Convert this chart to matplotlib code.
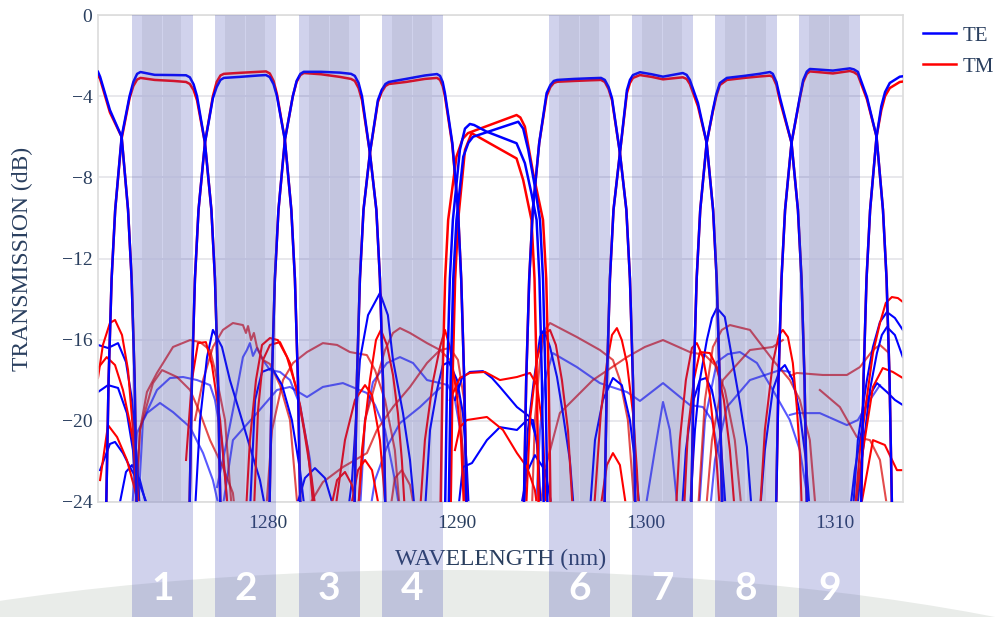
import matplotlib
matplotlib.use("Agg")
import matplotlib.pyplot as plt
import matplotlib.transforms as mtransforms
from matplotlib.patches import Rectangle, Ellipse
from matplotlib.lines import Line2D

plt.rcParams["font.family"] = ["Liberation Serif", "DejaVu Serif"]

# ---- main passbands: wavelength (nm), TE and TM transmission (dB) ----
ch0_wl = [1271.0, 1271.11, 1271.63, 1272.25, 1272.59, 1272.78, 1272.94, 1273.06]
ch0_te = [-2.8, -3.04, -4.68, -6.0, -9.6, -13, -18, -25]
ch0_tm = [-2.96, -3.15, -4.8, -6.0, -9.6, -13, -18, -25]

ch1_wl = [1271.42, 1271.56, 1271.72, 1271.91, 1272.25, 1272.67, 1272.87, 1273.07, 1273.25, 1274.0,
          1275.0, 1275.66, 1275.86, 1276.06, 1276.24, 1276.66, 1277.0, 1277.19, 1277.35, 1277.49]
ch1_te = [-25, -18, -13, -9.6, -6.0, -4.0, -3.3, -2.9, -2.81, -2.95,
          -2.96, -2.97, -3.07, -3.42, -4.0, -6.3, -9.6, -13, -18, -25]
ch1_tm = [-25, -18, -13, -9.6, -6.1, -4.1, -3.5, -3.18, -3.1, -3.2,
          -3.25, -3.3, -3.4, -3.7, -4.2, -6.3, -9.6, -13, -18, -25]

ch2_wl = [1275.83, 1275.97, 1276.13, 1276.32, 1276.66, 1277.08, 1277.28, 1277.48, 1277.66, 1278.5,
          1279.5, 1279.89, 1280.09, 1280.29, 1280.47, 1280.89, 1281.23, 1281.42, 1281.58, 1281.72]
ch2_te = [-25, -18, -13, -9.6, -6.3, -4.1, -3.55, -3.2, -3.1, -3.05,
          -2.98, -2.96, -3.06, -3.41, -4.0, -6.16, -9.6, -13, -18, -25]
ch2_tm = [-25, -18, -13, -9.6, -6.3, -4.0, -3.3, -2.98, -2.9, -2.85,
          -2.8, -2.78, -2.88, -3.25, -3.9, -6.16, -9.6, -13, -18, -25]

ch3_wl = [1280.06, 1280.20, 1280.36, 1280.55, 1280.89, 1281.31, 1281.51, 1281.71, 1281.89, 1282.8,
          1283.8, 1284.39, 1284.59, 1284.79, 1284.97, 1285.39, 1285.73, 1285.92, 1286.08, 1286.22]
ch3_te = [-25, -18, -13, -9.6, -6.16, -4.0, -3.25, -2.9, -2.8, -2.8,
          -2.84, -2.9, -3.0, -3.35, -4.0, -6.8, -9.6, -13, -18, -25]
ch3_tm = [-25, -18, -13, -9.6, -6.16, -4.0, -3.3, -2.96, -2.86, -2.92,
          -3.05, -3.15, -3.25, -3.6, -4.2, -6.8, -9.6, -13, -18, -25]

ch4_wl = [1284.56, 1284.70, 1284.86, 1285.05, 1285.39, 1285.81, 1286.01, 1286.21, 1286.39, 1287.3,
          1288.3, 1288.94, 1289.1, 1289.24, 1289.36, 1289.75, 1290.05, 1290.22, 1290.38, 1290.52]
ch4_te = [-25, -18, -13, -9.6, -6.8, -4.2, -3.7, -3.4, -3.3, -3.15,
          -2.98, -2.91, -3.0, -3.3, -3.85, -6.3, -9.6, -13, -18, -25]
ch4_tm = [-25, -18, -13, -9.6, -6.8, -4.3, -3.8, -3.5, -3.4, -3.3,
          -3.15, -3.1, -3.2, -3.5, -4.0, -6.4, -9.6, -13, -18, -25]

ch5a_wl = [1289.36, 1289.47, 1289.62, 1289.78, 1290.15, 1290.42, 1290.68, 1290.9,
           1291.57, 1293.15, 1293.59, 1293.94, 1294.21, 1294.36, 1294.49, 1294.60]
ch5a_te = [-25, -18, -13, -10.1, -6.65, -5.6, -5.37, -5.42,
           -5.75, -6.32, -7.3, -8.8, -10.1, -13, -18, -25]
ch5b_wl = [1289.55, 1289.66, 1289.80, 1289.97, 1290.33, 1290.6, 1290.85, 1293.24,
           1293.5, 1293.77, 1294.12, 1294.39, 1294.55, 1294.68, 1294.80]
ch5b_te = [-25, -18, -13, -10.1, -6.98, -6.3, -6.0, -5.26,
           -5.6, -6.65, -8.46, -10.1, -13, -18, -25]
ch5c_wl = [1289.12, 1289.23, 1289.37, 1289.53, 1289.97, 1290.3, 1290.58, 1293.15,
           1293.35, 1293.59, 1294.03, 1294.55, 1294.72, 1294.85, 1294.96]
ch5c_tm = [-25, -18, -13, -10.1, -6.98, -6.1, -5.82, -4.93,
           -5.05, -5.5, -7.8, -10.1, -13, -18, -25]
ch5d_wl = [1289.65, 1289.76, 1289.90, 1290.06, 1290.42, 1290.77, 1293.15, 1293.50,
           1293.94, 1294.10, 1294.22, 1294.33]
ch5d_tm = [-25, -18, -13, -10.1, -6.65, -5.82, -7.07, -8.13,
           -10.1, -13, -18, -25]

ch6_wl = [1293.52, 1293.66, 1293.82, 1294.01, 1294.35, 1294.74, 1294.94, 1295.12, 1295.3, 1296.2,
          1297.0, 1297.62, 1297.82, 1298.02, 1298.2, 1298.62, 1298.96, 1299.15, 1299.31, 1299.45]
ch6_te = [-25, -18, -13, -9.6, -6.3, -3.85, -3.45, -3.25, -3.2, -3.15,
          -3.12, -3.1, -3.2, -3.55, -4.1, -6.8, -9.6, -13, -18, -25]
ch6_tm = [-25, -18, -13, -9.6, -6.3, -4.0, -3.55, -3.35, -3.29, -3.25,
          -3.22, -3.2, -3.3, -3.65, -4.2, -6.8, -9.6, -13, -18, -25]

ch7_wl = [1297.79, 1297.93, 1298.09, 1298.28, 1298.62, 1298.99, 1299.15, 1299.31, 1299.68, 1300.3,
          1300.9, 1301.95, 1302.15, 1302.32, 1302.75, 1303.21, 1303.55, 1303.74, 1303.9, 1304.04]
ch7_te = [-25, -18, -13, -9.6, -6.8, -3.7, -3.2, -2.96, -2.82, -2.92,
          -3.04, -2.86, -2.95, -3.2, -4.34, -6.3, -9.6, -13, -18, -25]
ch7_tm = [-25, -18, -13, -9.6, -6.8, -3.85, -3.35, -3.1, -2.96, -3.05,
          -3.17, -3.07, -3.15, -3.4, -4.5, -6.3, -9.6, -13, -18, -25]

ch8_wl = [1302.38, 1302.52, 1302.68, 1302.87, 1303.21, 1303.54, 1303.72, 1303.91, 1304.28, 1305.2,
          1306.0, 1306.56, 1306.71, 1306.9, 1307.08, 1307.70, 1308.04, 1308.23, 1308.39, 1308.53]
ch8_te = [-25, -18, -13, -9.6, -6.3, -4.68, -3.9, -3.35, -3.1, -3.0,
          -2.9, -2.81, -2.9, -3.3, -4.04, -6.3, -9.6, -13, -18, -25]
ch8_tm = [-25, -18, -13, -9.6, -6.3, -4.75, -4.0, -3.45, -3.2, -3.1,
          -3.03, -2.99, -3.05, -3.45, -4.2, -6.3, -9.6, -13, -18, -25]

ch9_wl = [1306.87, 1307.01, 1307.17, 1307.36, 1307.70, 1308.14, 1308.32, 1308.51, 1308.67, 1309.3,
          1309.89, 1310.79, 1311.0, 1311.21, 1311.69, 1312.20, 1312.54, 1312.73, 1312.89, 1313.03]
ch9_te = [-25, -18, -13, -9.6, -6.3, -4.04, -3.2, -2.79, -2.66, -2.7,
          -2.74, -2.63, -2.68, -2.8, -4.04, -6.0, -9.6, -13, -18, -25]
ch9_tm = [-25, -18, -13, -9.6, -6.3, -4.1, -3.3, -2.9, -2.78, -2.83,
          -2.88, -2.76, -2.82, -2.95, -4.15, -6.0, -9.6, -13, -18, -25]

ch10_wl = [1311.37, 1311.51, 1311.67, 1311.86, 1312.20, 1312.45, 1312.65, 1312.9, 1313.43, 1313.6]
ch10_te = [-25, -18, -13, -9.6, -6.0, -4.5, -3.8, -3.35, -3.04, -3.02]
ch10_tm = [-25, -18, -13, -9.6, -6.0, -4.7, -4.0, -3.6, -3.3, -3.28]

# ---- crosstalk traces (wavelength list, dB list) ----
te_leak = [
    ([1271.0, 1271.53, 1272.06, 1272.48, 1272.80, 1273.06, 1273.22], [-16.26, -16.41, -16.17, -17.10, -18.97, -21.93, -24.5]),
    ([1271.0, 1271.53, 1272.06, 1272.53, 1272.85, 1273.06], [-18.58, -18.24, -18.38, -19.62, -21.44, -24.5]),
    ([1271.11, 1271.63, 1271.90, 1272.32, 1272.69, 1273.22, 1273.75], [-22.43, -21.14, -21.04, -21.59, -22.28, -23.16, -24.5]),
    ([1272.06, 1272.48, 1272.80, 1273.22, 1273.65], [-24.5, -22.52, -22.18, -22.92, -24.5]),
    ([1276.13, 1276.40, 1276.77, 1277.08, 1277.56, 1277.98, 1278.51, 1279.04, 1279.57, 1279.89], [-24.5, -19.96, -16.86, -15.52, -16.36, -17.99, -19.62, -21.29, -22.92, -24.5]),
    ([1279.04, 1279.31, 1279.68, 1280.21, 1280.74, 1281.26, 1281.69, 1281.95], [-24.5, -18.97, -17.59, -17.40, -18.24, -19.96, -22.43, -24.5]),
    ([1284.23, 1284.44, 1284.86, 1285.29, 1285.92, 1286.34, 1286.61, 1287.14, 1287.51, 1287.77], [-24.5, -22.92, -17.00, -14.79, -13.70, -14.79, -17.00, -19.62, -21.93, -24.5]),
    ([1288.30, 1288.57, 1288.94, 1289.25, 1289.57, 1290.0, 1290.31, 1290.52, 1290.63], [-24.5, -20.45, -18.48, -17.25, -17.10, -17.99, -19.62, -22.28, -24.5]),
    ([1289.89, 1290.26, 1290.68, 1291.37, 1291.85, 1292.27, 1293.17, 1293.86, 1294.23, 1294.39], [-18.97, -17.89, -17.59, -17.55, -17.89, -18.33, -19.32, -19.81, -20.95, -24.5]),
    ([1290.05, 1290.31, 1290.79, 1291.58, 1292.27, 1293.17, 1293.70, 1294.02, 1294.28, 1294.44], [-24.5, -22.28, -22.08, -20.95, -20.31, -20.45, -19.96, -19.96, -21.44, -24.5]),
    ([1293.54, 1293.75, 1294.07, 1294.39, 1294.60, 1294.92, 1295.29, 1295.60, 1295.97, 1296.19], [-24.5, -20.45, -17.99, -15.87, -15.52, -16.36, -17.84, -19.62, -21.93, -24.5]),
    ([1297.03, 1297.30, 1297.72, 1298.25, 1298.72, 1299.15, 1299.47, 1299.68], [-24.5, -20.95, -18.97, -17.89, -18.24, -19.96, -22.43, -24.5]),
    ([1302.32, 1302.59, 1302.85, 1303.22, 1303.49, 1303.75, 1304.17, 1304.60, 1304.97, 1305.34, 1305.60], [-24.5, -20.45, -17.99, -16.02, -14.93, -14.44, -14.88, -17.15, -19.12, -21.29, -24.5]),
    ([1306.03, 1306.29, 1306.71, 1307.08, 1307.35, 1307.77, 1308.14, 1308.46, 1308.67], [-24.5, -21.44, -18.48, -17.50, -17.25, -17.99, -19.62, -21.93, -24.5]),
    ([1310.95, 1311.21, 1311.69, 1312.01, 1312.38, 1312.75, 1313.17, 1313.59], [-24.5, -20.95, -17.99, -16.36, -15.13, -14.64, -14.93, -15.52]),
    ([1311.16, 1311.42, 1311.85, 1312.22, 1312.48, 1312.75, 1313.17, 1313.59], [-24.5, -21.93, -18.48, -16.66, -15.77, -15.38, -15.77, -16.86]),
    ([1310.79, 1311.05, 1311.69, 1312.22, 1312.75, 1313.17, 1313.59], [-24.5, -22.43, -18.97, -18.14, -18.58, -18.97, -19.22]),
    ([1301.90, 1302.11, 1302.43, 1302.85, 1303.17, 1303.49, 1303.91, 1304.23], [-24.5, -21.44, -19.22, -17.99, -17.89, -18.48, -20.45, -24.5]),
    ([1293.33, 1293.75, 1294.12, 1294.65, 1295.07], [-24.5, -22.43, -21.69, -22.43, -24.5]),
    ([1281.42, 1281.95, 1282.48, 1283.01, 1283.54], [-24.5, -22.82, -22.33, -22.82, -24.5]),
]

te_leak_faint = [
    ([1272.80, 1273.06, 1273.59, 1274.28, 1274.97, 1275.87, 1276.56, 1277.08, 1277.46], [-24.5, -20.60, -19.62, -19.12, -19.57, -20.31, -21.59, -22.92, -24.5]),
    ([1273.12, 1273.38, 1274.12, 1274.81, 1275.50, 1276.24, 1276.93, 1277.19, 1277.56, 1277.88], [-24.5, -19.96, -18.48, -17.89, -17.84, -17.99, -18.24, -18.97, -20.95, -24.5]),
    ([1277.30, 1277.83, 1278.35, 1278.67, 1278.88, 1279.04, 1279.20, 1279.41, 1279.73, 1280.10, 1280.63, 1281.16, 1281.69, 1282.22, 1282.43],
     [-23.26, -20.95, -18.48, -16.86, -16.51, -16.17, -16.8, -16.41, -17.00, -17.50, -17.59, -17.99, -19.22, -21.93, -24.5]),
    ([1277.56, 1278.14, 1279.41, 1280.47, 1281.16, 1282.06, 1282.90, 1283.96, 1285.23, 1285.66, 1286.19, 1286.71, 1286.98],
     [-24.5, -20.95, -19.62, -18.48, -18.33, -18.83, -18.33, -18.14, -18.63, -19.22, -20.45, -22.92, -24.5]),
    ([1284.86, 1285.13, 1285.55, 1286.29, 1286.98, 1287.67, 1288.41, 1289.10, 1289.52, 1289.89, 1290.26, 1290.47],
     [-24.5, -19.96, -18.09, -17.15, -16.86, -17.15, -17.99, -18.14, -18.24, -18.97, -20.95, -24.5]),
    ([1285.39, 1285.66, 1286.29, 1286.98, 1288.04, 1289.10], [-24.5, -22.92, -21.29, -20.11, -19.32, -18.38]),
    ([1294.17, 1294.39, 1294.65, 1295.07, 1296.34, 1297.56, 1298.99, 1299.68, 1300.90, 1302.32, 1303.01, 1303.49, 1303.91, 1304.17],
     [-24.5, -20.45, -17.99, -16.66, -17.35, -18.14, -18.58, -19.02, -18.14, -19.22, -19.32, -19.96, -21.93, -24.5]),
    ([1302.80, 1303.12, 1303.75, 1304.33, 1304.97, 1305.87, 1306.71, 1307.61, 1308.14, 1308.67],
     [-24.5, -19.96, -17.10, -16.71, -16.61, -17.15, -18.48, -19.96, -21.44, -24.5]),
    ([1303.38, 1303.65, 1304.28, 1305.50, 1307.08, 1307.61], [-24.5, -21.93, -19.32, -17.99, -17.50, -17.59]),
    ([1307.61, 1307.98, 1309.20, 1310.63, 1311.21, 1311.85, 1312.38], [-19.71, -19.62, -19.62, -20.21, -19.96, -18.97, -18.24]),
    ([1299.94, 1300.47, 1300.90, 1301.26, 1301.69], [-24.5, -21.44, -19.07, -20.45, -24.5]),
]

tm_leak = [
    ([1271.0, 1271.26, 1271.63, 1271.90, 1272.27, 1272.59, 1272.85, 1273.06], [-17.89, -16.26, -15.18, -15.03, -15.77, -17.50, -20.45, -24.5]),
    ([1271.0, 1271.46, 1271.90, 1272.32, 1272.69, 1272.96, 1273.17], [-17.40, -16.86, -17.25, -18.48, -20.11, -21.59, -24.5]),
    ([1271.11, 1271.53, 1272.01, 1272.53, 1272.96, 1273.22], [-22.92, -20.21, -20.80, -21.93, -23.41, -24.5]),
    ([1275.66, 1275.97, 1276.29, 1276.71, 1277.03, 1277.46, 1277.88], [-21.93, -17.99, -16.17, -16.12, -17.25, -19.96, -24.5]),
    ([1278.83, 1279.04, 1279.36, 1279.68, 1280.10, 1280.52, 1281.0, 1281.53, 1281.90, 1282.32, 1282.53], [-24.5, -20.95, -17.99, -16.26, -15.92, -16.02, -16.86, -18.48, -20.45, -22.92, -24.5]),
    ([1279.25, 1279.47, 1279.73, 1280.10, 1280.63, 1281.16, 1281.69, 1282.11, 1282.43], [-24.5, -19.47, -17.00, -16.26, -16.12, -17.15, -19.22, -21.44, -24.5]),
    ([1283.54, 1284.07, 1284.60, 1285.13, 1285.50, 1285.92, 1286.24], [-24.5, -20.95, -18.97, -18.24, -18.73, -20.95, -24.5]),
    ([1284.76, 1284.97, 1285.39, 1285.71, 1285.97, 1286.29, 1286.61, 1286.87, 1287.08, 1287.24], [-24.5, -21.44, -17.99, -16.02, -15.52, -16.26, -17.74, -19.62, -21.93, -24.5]),
    ([1288.04, 1288.30, 1288.72, 1289.10, 1289.36, 1289.62, 1290.0, 1290.21, 1290.37], [-24.5, -20.95, -18.09, -16.36, -15.52, -16.36, -18.83, -20.95, -24.5]),
    ([1289.62, 1290.15, 1290.68, 1291.48, 1292.27, 1293.17, 1293.86, 1294.23, 1294.55, 1294.70], [-18.97, -17.89, -17.64, -17.59, -17.99, -17.84, -17.64, -18.24, -20.45, -24.5]),
    ([1289.89, 1290.15, 1290.52, 1291.58, 1292.43, 1293.17, 1293.70, 1294.12, 1294.28], [-21.44, -20.31, -19.96, -19.81, -20.45, -21.59, -22.28, -23.41, -24.5]),
    ([1293.65, 1293.86, 1294.23, 1294.55, 1294.92, 1295.23, 1295.55, 1295.87, 1296.13], [-24.5, -19.96, -17.00, -15.77, -15.52, -16.26, -17.99, -20.45, -24.5]),
    ([1297.24, 1297.40, 1297.61, 1297.93, 1298.20, 1298.46, 1298.72, 1298.99, 1299.31, 1299.52, 1299.62], [-24.5, -22.43, -19.62, -17.15, -15.77, -15.43, -16.02, -17.15, -19.62, -22.43, -24.5]),
    ([1297.56, 1297.93, 1298.25, 1298.62, 1298.99], [-24.5, -22.18, -21.59, -22.18, -24.5]),
    ([1306.03, 1306.29, 1306.71, 1307.03, 1307.24, 1307.51, 1307.77, 1307.98, 1308.14, 1308.25], [-24.5, -20.45, -17.15, -15.77, -15.52, -15.87, -17.15, -19.32, -21.59, -24.5]),
    ([1311.05, 1311.32, 1311.69, 1312.01, 1312.38, 1312.69, 1313.01, 1313.33, 1313.59], [-24.5, -21.44, -18.83, -16.66, -15.18, -14.19, -13.90, -13.95, -14.14]),
    ([1311.05, 1311.32, 1312.01, 1312.53, 1313.06, 1313.59], [-24.5, -22.43, -18.33, -17.40, -17.59, -17.89]),
    ([1311.32, 1312.01, 1312.64, 1313.28, 1313.59], [-24.5, -20.95, -21.19, -22.43, -22.43]),
    ([1301.58, 1301.79, 1302.11, 1302.43, 1302.69, 1303.01, 1303.38, 1303.70, 1303.91], [-24.5, -20.95, -17.99, -16.41, -16.17, -16.86, -18.73, -21.44, -24.5]),
    ([1302.01, 1302.22, 1302.53, 1302.85, 1303.38, 1303.75, 1304.12, 1304.44, 1304.70], [-24.5, -20.45, -17.99, -16.61, -16.66, -17.35, -18.97, -21.44, -24.5]),
    ([1284.33, 1284.76, 1285.13, 1285.50, 1285.92], [-24.5, -22.43, -21.93, -22.43, -24.5]),
    ([1283.28, 1283.65, 1284.07, 1284.44, 1284.70], [-24.5, -22.92, -22.52, -23.16, -24.5]),
]

tm_leak_faint = [
    ([1273.01, 1273.22, 1273.59, 1274.12, 1274.97, 1275.87, 1276.40, 1276.93, 1277.19, 1277.72, 1278.09],
     [-24.5, -20.45, -18.58, -17.64, -16.36, -16.02, -16.12, -16.51, -17.50, -19.96, -24.5]),
    ([1272.96, 1273.22, 1273.91, 1274.39, 1275.18, 1275.87, 1276.40, 1276.93, 1277.61, 1278.14, 1278.25],
     [-24.5, -20.45, -18.14, -17.50, -17.84, -18.48, -19.62, -20.95, -22.28, -23.56, -24.5]),
    ([1276.13, 1276.56, 1277.08, 1277.61, 1278.14, 1278.67, 1278.83, 1278.94, 1279.10, 1279.25, 1279.41, 1279.73, 1280.10, 1280.63, 1281.16, 1281.58],
     [-19.96, -17.99, -16.36, -15.52, -15.18, -15.28, -15.67, -15.33, -16.02, -15.67, -16.36, -17.00, -17.20, -18.24, -19.96, -24.5]),
    ([1279.89, 1280.21, 1280.79, 1281.32, 1282.06, 1282.90, 1283.65, 1284.33, 1285.23, 1285.66, 1286.19, 1286.71, 1286.98],
     [-24.5, -20.45, -17.99, -17.15, -16.61, -16.17, -16.26, -16.61, -16.76, -17.50, -18.97, -21.44, -24.5]),
    ([1281.95, 1282.90, 1283.96, 1285.23, 1285.76, 1286.61, 1287.51, 1288.41, 1289.10, 1289.62, 1290.05, 1290.37, 1290.58],
     [-24.5, -23.02, -22.28, -21.59, -20.45, -19.32, -18.33, -17.15, -16.51, -16.41, -17.0, -18.97, -24.5]),
    ([1284.76, 1285.13, 1285.76, 1286.19, 1286.61, 1286.98, 1287.51, 1288.41, 1289.10, 1289.62, 1290.15, 1290.47],
     [-24.5, -19.96, -17.89, -16.51, -15.67, -15.43, -15.67, -16.17, -16.51, -17.00, -18.97, -24.5]),
    ([1293.96, 1294.12, 1294.39, 1294.65, 1294.92, 1296.34, 1297.56, 1298.25, 1298.62, 1299.04, 1299.41],
     [-24.5, -19.96, -17.00, -15.52, -15.18, -15.87, -16.51, -17.00, -17.99, -19.96, -24.5]),
    ([1294.39, 1294.65, 1295.44, 1297.19, 1298.99, 1299.94, 1300.90, 1302.32, 1303.12, 1303.65, 1304.17, 1304.70, 1305.07],
     [-24.5, -22.43, -19.62, -17.99, -16.86, -16.36, -16.02, -16.61, -16.76, -17.25, -18.48, -20.95, -24.5]),
    ([1302.75, 1303.12, 1303.54, 1304.01, 1304.44, 1305.50, 1306.71, 1307.61, 1308.14, 1308.67, 1308.99],
     [-24.5, -18.97, -16.36, -15.52, -15.28, -15.52, -17.00, -17.99, -18.97, -20.95, -24.5]),
    ([1303.17, 1303.49, 1304.07, 1305.50, 1306.71, 1307.24], [-24.5, -20.95, -17.99, -16.51, -16.36, -16.02]),
    ([1307.61, 1307.98, 1309.36, 1310.63, 1311.32, 1312.01, 1312.38, 1312.80], [-17.79, -17.64, -17.74, -17.74, -17.35, -16.51, -16.26, -16.61]),
    ([1309.20, 1310.26, 1311.16, 1311.85, 1312.38, 1312.80], [-18.48, -19.32, -20.80, -20.95, -21.93, -24.5]),
    ([1286.45, 1286.71, 1287.08, 1287.51, 1287.77], [-24.5, -22.82, -22.43, -23.16, -24.5]),
]

# ---- channel windows (nm) and their labels ----
band_lo = [1272.80, 1277.19, 1281.63, 1286.03, 1294.86, 1299.25, 1303.65, 1308.09]
band_hi = [1276.01, 1280.42, 1284.86, 1289.25, 1298.09, 1302.48, 1306.93, 1311.32]
band_labels = ["1", "2", "3", "4", "6", "7", "8", "9"]

y_ticks = [0, -4, -8, -12, -16, -20, -24]
x_ticks = [1280, 1290, 1300, 1310]

TEXT = "#2a3f5f"
TE_COLOR = "#0000ff"
TM_COLOR = "#ff0000"


def main():
    fig = plt.figure(figsize=(9.96, 6.17), dpi=100)
    ax = fig.add_axes([98 / 996, 1 - 502 / 617, 805 / 996, 487 / 617])
    ax.set_xlim(1271.0, 1313.6)
    ax.set_ylim(-24, 0)

    # grey shading of the channel windows inside the plot
    xt = ax.get_xaxis_transform()
    for lo, hi in zip(band_lo, band_hi):
        mid = (lo + hi) / 2
        for a, b in ((lo + 0.52, mid - 0.04), (mid + 0.04, hi - 0.6)):
            ax.add_patch(Rectangle((a, 0), b - a, 1, transform=xt, facecolor="#808080",
                                   alpha=0.13, lw=0, zorder=0.3))

    for wl, db in te_leak_faint:
        ax.plot(wl, db, color=TE_COLOR, lw=1.5, alpha=0.65, zorder=1.5)
    for wl, db in tm_leak_faint:
        ax.plot(wl, db, color="#d80000", lw=1.5, alpha=0.7, zorder=1.5)
    for wl, db in te_leak:
        ax.plot(wl, db, color=TE_COLOR, lw=1.5, zorder=2)
    for wl, db in tm_leak:
        ax.plot(wl, db, color=TM_COLOR, lw=1.5, zorder=2)

    te_curves = [(ch0_wl, ch0_te), (ch1_wl, ch1_te), (ch2_wl, ch2_te), (ch3_wl, ch3_te),
                 (ch4_wl, ch4_te), (ch5a_wl, ch5a_te), (ch5b_wl, ch5b_te), (ch6_wl, ch6_te),
                 (ch7_wl, ch7_te), (ch8_wl, ch8_te), (ch9_wl, ch9_te), (ch10_wl, ch10_te)]
    tm_curves = [(ch0_wl, ch0_tm), (ch1_wl, ch1_tm), (ch2_wl, ch2_tm), (ch3_wl, ch3_tm),
                 (ch4_wl, ch4_tm), (ch5c_wl, ch5c_tm), (ch5d_wl, ch5d_tm), (ch6_wl, ch6_tm),
                 (ch7_wl, ch7_tm), (ch8_wl, ch8_tm), (ch9_wl, ch9_tm), (ch10_wl, ch10_tm)]
    for wl, db in tm_curves:
        ax.plot(wl, db, color=TM_COLOR, lw=1.8, zorder=3)
    for wl, db in te_curves:
        ax.plot(wl, db, color=TE_COLOR, lw=1.8, zorder=3.1)

    ax.set_yticks(y_ticks)
    ax.set_xticks(x_ticks)
    ax.set_yticklabels([f"{v}".replace("-", "\u2212") for v in y_ticks])
    ax.set_xticklabels([str(v) for v in x_ticks])
    ax.tick_params(axis="both", length=0, labelsize=14, labelcolor=TEXT)
    ax.tick_params(axis="y", pad=4)
    ax.tick_params(axis="x", pad=9)
    ax.yaxis.grid(True, color="#e6e6ea", lw=1.3, zorder=0.5)
    ax.set_axisbelow(True)
    for side, sp in ax.spines.items():
        sp.set_color("#dcdcdc")
        sp.set_linewidth(1.2)

    ax.set_xlabel("WAVELENGTH (nm)", fontsize=17, color=TEXT)
    ax.xaxis.set_label_coords(0.5, -0.119)
    ax.xaxis.label.set_va("center")
    ax.set_ylabel("TRANSMISSION (dB)", fontsize=17, color=TEXT)
    ax.yaxis.set_label_coords(-0.0944, 0.5)
    ax.yaxis.label.set_va("center")

    handles = [Line2D([], [], color=TE_COLOR, lw=1.8), Line2D([], [], color=TM_COLOR, lw=1.8)]
    leg = fig.legend(handles, ["TE", "TM"], loc="upper left",
                     bbox_to_anchor=(923 / 996, 1 - 26 / 617), frameon=False, fontsize=15,
                     handlelength=1.6, handletextpad=0.3, labelspacing=0.55,
                     borderpad=0, borderaxespad=0)
    for t in leg.get_texts():
        t.set_color(TEXT)

    # slide backdrop and channel overlay
    fig.add_artist(Ellipse((0.452, -0.2966), 1.807, 0.7455, transform=fig.transFigure,
                           facecolor="#e9ece9", edgecolor="none", zorder=-1))
    bt = mtransforms.blended_transform_factory(ax.transData, fig.transFigure)
    for lo, hi, lab in zip(band_lo, band_hi, band_labels):
        fig.add_artist(Rectangle((lo, 0), hi - lo, 1 - 15 / 617, transform=bt,
                                 facecolor=(68 / 255, 76 / 255, 180 / 255), alpha=0.25,
                                 lw=0, zorder=5, clip_on=False))
        fig.text((lo + hi) / 2, 1 - 589 / 617, lab, transform=bt, ha="center", va="center",
                 color="white", fontsize=28, fontweight="bold", family=["Lato", "DejaVu Sans"],
                 zorder=6)

    fig.savefig("out.png", dpi=100)
    plt.close(fig)


if __name__ == "__main__":
    main()
